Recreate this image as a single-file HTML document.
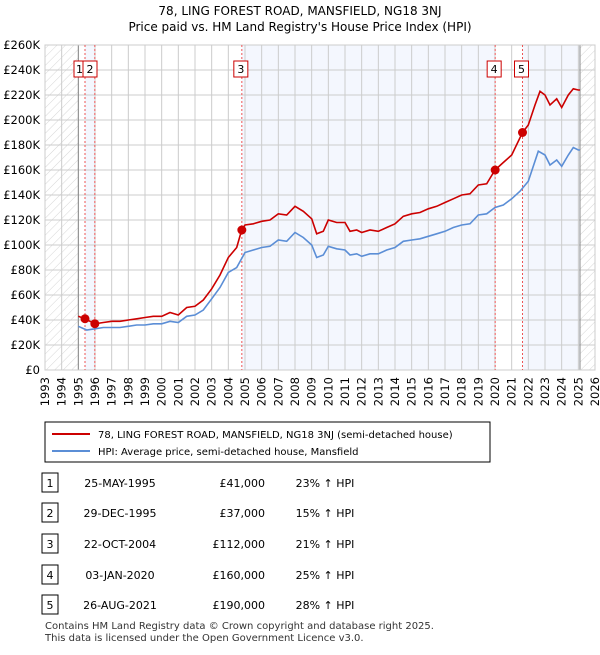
<!DOCTYPE html>
<html><head><meta charset="utf-8"><style>
body{margin:0;background:#fff;font-family:"Liberation Sans","DejaVu Sans",sans-serif;}
svg text{font-family:"DejaVu Sans","Liberation Sans",sans-serif;}
</style></head><body>
<svg id="c" width="600" height="650" xmlns="http://www.w3.org/2000/svg">
<defs><pattern id="h" width="6" height="6" patternUnits="userSpaceOnUse" patternTransform="rotate(45)"><line x1="0" y1="0" x2="0" y2="6" stroke="#ccc" stroke-width="0.8"/></pattern></defs>
<text x="300" y="15" text-anchor="middle" font-size="12">78, LING FOREST ROAD, MANSFIELD, NG18 3NJ</text>
<text x="300" y="31" text-anchor="middle" font-size="12">Price paid vs. HM Land Registry's House Price Index (HPI)</text>
<g id="plot"></g>
<rect x="45" y="422" width="445" height="40" fill="#fff" stroke="#000" stroke-width="1"/>
<line x1="52" y1="434" x2="90" y2="434" stroke="#cc0000" stroke-width="2"/>
<text x="98" y="438" font-size="10">78, LING FOREST ROAD, MANSFIELD, NG18 3NJ (semi-detached house)</text>
<line x1="52" y1="451" x2="90" y2="451" stroke="#5b8ed6" stroke-width="2"/>
<text x="98" y="455" font-size="10">HPI: Average price, semi-detached house, Mansfield</text>
<g id="tbl"></g>
<text x="45" y="629" font-size="10" fill="#333">Contains HM Land Registry data © Crown copyright and database right 2025.</text>
<text x="45" y="641" font-size="10" fill="#333">This data is licensed under the Open Government Licence v3.0.</text>
</svg>
<script>
const hpiX=[1995.0,1995.5,1996,1996.5,1997,1997.5,1998,1998.5,1999,1999.5,2000,2000.5,2001,2001.5,2002,2002.5,2003,2003.5,2004,2004.5,2005,2005.5,2006,2006.5,2007,2007.5,2008,2008.5,2009,2009.3,2009.7,2010,2010.5,2011,2011.3,2011.7,2012,2012.5,2013,2013.5,2014,2014.5,2015,2015.5,2016,2016.5,2017,2017.5,2018,2018.5,2019,2019.5,2020,2020.5,2021,2021.5,2022,2022.6,2023,2023.3,2023.7,2024,2024.4,2024.7,2025,2025.1];
const hpiY=[35,32,33,34,34,34,35,36,36,37,37,39,38,43,44,48,57,66,78,82,94,96,98,99,104,103,110,106,100,90,92,99,97,96,92,93,91,93,93,96,98,103,104,105,107,109,111,114,116,117,124,125,130,132,137,143,151,175,172,164,168,163,172,178,176,176];
const ppX=[1995.0,1995.4,1995.7,1996,1996.5,1997,1997.5,1998,1998.5,1999,1999.5,2000,2000.5,2001,2001.5,2002,2002.5,2003,2003.5,2004,2004.5,2004.8,2005,2005.5,2006,2006.5,2007,2007.5,2008,2008.5,2009,2009.3,2009.7,2010,2010.5,2011,2011.3,2011.7,2012,2012.5,2013,2013.5,2014,2014.5,2015,2015.5,2016,2016.5,2017,2017.5,2018,2018.5,2019,2019.5,2020,2020.5,2021,2021.65,2022,2022.4,2022.7,2023,2023.3,2023.7,2024,2024.4,2024.7,2025,2025.1];
const ppY=[43,41,39,37,38,39,39,40,41,42,43,43,46,44,50,51,56,65,76,90,98,112,116,117,119,120,125,124,131,127,121,109,111,120,118,118,111,112,110,112,111,114,117,123,125,126,129,131,134,137,140,141,148,149,160,166,172,190,196,212,223,220,212,217,210,220,225,224,224];
const saleX=[1995.4,1995.99,2004.81,2020.01,2021.65];
const saleY=[41,37,112,160,190];
const saleLabels=["1","2","3","4","5"];
const saleDates=["25-MAY-1995","29-DEC-1995","22-OCT-2004","03-JAN-2020","26-AUG-2021"];
const salePrices=["£41,000","£37,000","£112,000","£160,000","£190,000"];
const saleHpi=["23% ↑ HPI","15% ↑ HPI","21% ↑ HPI","25% ↑ HPI","28% ↑ HPI"];
const yTicks=[0,20,40,60,80,100,120,140,160,180,200,220,240,260];
const yTickLabels=["£0","£20K","£40K","£60K","£80K","£100K","£120K","£140K","£160K","£180K","£200K","£220K","£240K","£260K"];
const xTicks=[1993,1994,1995,1996,1997,1998,1999,2000,2001,2002,2003,2004,2005,2006,2007,2008,2009,2010,2011,2012,2013,2014,2015,2016,2017,2018,2019,2020,2021,2022,2023,2024,2025,2026];

const X0=45,X1=595,Y0=370,Y1=45;
const sx=v=>X0+(v-1993)/(2026-1993)*(X1-X0);
const sy=v=>Y0-v/260*(Y0-Y1);
const NS="http://www.w3.org/2000/svg";
const g=document.getElementById('plot');
function mk(tag,attrs,parent){const e=document.createElementNS(NS,tag);for(const k in attrs)e.setAttribute(k,attrs[k]);(parent||g).appendChild(e);return e;}
const bands=[[saleX[0],saleX[1]],[saleX[2],saleX[3]],[saleX[4],2025.1]];
bands.forEach(b=>{const r=mk('rect',{x:sx(b[0]),y:Y1,width:sx(b[1])-sx(b[0]),height:Y0-Y1,fill:'#f4f7fe'});

});
let r=mk('rect',{x:X0,y:Y1,width:sx(1995)-X0,height:Y0-Y1,fill:'url(#h)'});


r=mk('rect',{x:sx(2025.1),y:Y1,width:X1-sx(2025.1),height:Y0-Y1,fill:'url(#h)'});


yTicks.forEach((t,i)=>{const l=mk('line',{x1:X0,x2:X1,y1:sy(t),y2:sy(t),stroke:'#ccc','stroke-width':1});


const tx=mk('text',{x:40,y:sy(t)+4,'text-anchor':'end','font-size':11.5});tx.textContent=yTickLabels[i];

});
xTicks.forEach(t=>{const l=mk('line',{x1:sx(t),x2:sx(t),y1:Y1,y2:Y0,stroke:'#ccc','stroke-width':1});


const tx=mk('text',{x:0,y:0,'text-anchor':'end','font-size':11.5,transform:`translate(${sx(t)+4},377) rotate(-90)`});tx.textContent=t;

});
[1995,2025.1].forEach(v=>{const l=mk('line',{x1:sx(v),x2:sx(v),y1:Y1,y2:Y0,stroke:'#888','stroke-width':1});

});
r=mk('rect',{x:X0,y:Y1,width:X1-X0,height:Y0-Y1,fill:'none',stroke:'#ccc'});


saleX.forEach((v,i)=>{const l=mk('line',{x1:sx(v),x2:sx(v),y1:Y1,y2:Y0,stroke:'#e55','stroke-width':1,'stroke-dasharray':'2,2'});

});
const path=(xs,ys)=>xs.map((v,i)=>(i?'L':'M')+sx(v).toFixed(1)+','+sy(ys[i]).toFixed(1)).join('');
let p=mk('path',{d:path(hpiX,hpiY),fill:'none',stroke:'#5b8ed6','stroke-width':1.6});


p=mk('path',{d:path(ppX,ppY),fill:'none',stroke:'#cc0000','stroke-width':1.6});


saleX.forEach((v,i)=>{const c=mk('circle',{cx:sx(v),cy:sy(saleY[i]),r:4.5,fill:'#cc0000'});


const bx=(i===0)?74:(i===1?83:sx(v)-8);
const w=(i===0)?9:14;
const b=mk('rect',{x:bx,y:61,width:w,height:16,fill:'#fff',stroke:'#cc0000'});


const t=mk('text',{x:bx+w/2+(i===0?1:0),y:73,'text-anchor':'middle','font-size':11});t.textContent=saleLabels[i];

});
const tb=document.getElementById('tbl');
const rowsY=[483,513,544,575,605];
rowsY.forEach((y,i)=>{const b=mk('rect',{x:42,y:y-10,width:16,height:19,fill:'#fff',stroke:'#000'},tb);


const vals=[[50,saleLabels[i],'middle'],[120,saleDates[i],'middle'],[265,salePrices[i],'end'],[325,saleHpi[i],'middle']];
vals.forEach(v=>{const t=mk('text',{x:v[0],y:y+4,'text-anchor':v[2],'font-size':11},tb);t.textContent=v[1];

});});
</script>
</body></html>
